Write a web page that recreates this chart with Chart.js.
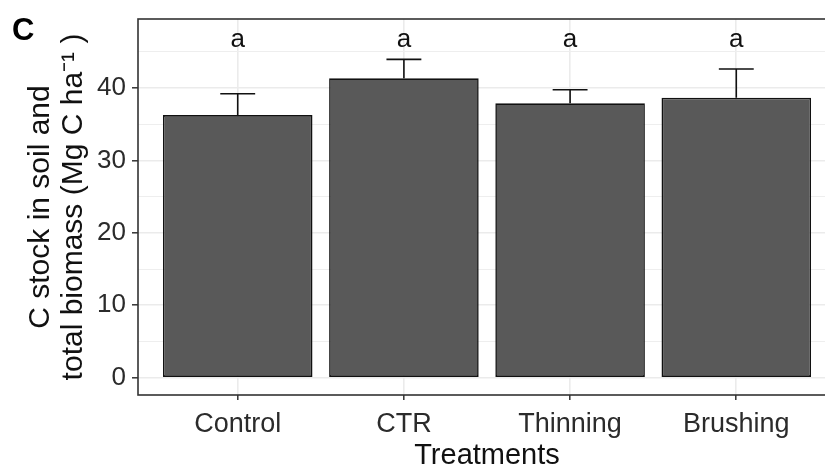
<!DOCTYPE html>
<html><head><meta charset="utf-8">
<script src="https://cdn.jsdelivr.net/npm/chart.js@4/dist/chart.umd.min.js"></script>
<style>
html,body{margin:0;padding:0;background:#fff;overflow:hidden;}
#wrap{position:relative;width:825px;height:468px;overflow:hidden;background:#fff;}
#wrap canvas{position:absolute;left:0;top:0;}
</style></head><body>
<div id="wrap"><canvas id="c" width="850" height="476"></canvas></div>
<script>
// ---- data ----
const categories = ['Control', 'CTR', 'Thinning', 'Brushing'];
const means = [36.27, 41.34, 37.89, 38.66];
const errors = [2.94, 2.62, 1.88, 3.96];
const letters = ['a', 'a', 'a', 'a'];
const letterY = 46.7;
const yTicks = [0, 5, 10, 15, 20, 25, 30, 35, 40, 45];
const yLabelTicks = [0, 10, 20, 30, 40];
const yRange = [-2.39, 49.53];
const xRange = [-0.6, 3.6];
const capWidth = 0.21;
const panelLabel = 'C';
const yTitle = ['C stock in soil and', 'total biomass (Mg C ha\u207B\u00B9 )'];
const xTitle = 'Treatments';

const FONT = '"Liberation Sans", Arial, sans-serif';

const extras = {
  id: 'extras',
  afterDatasetsDraw(chart) {
    const {ctx, chartArea: a, scales: {x, y}} = chart;
    ctx.save();
    // error bars
    ctx.strokeStyle = '#111';
    ctx.lineWidth = 1.6;
    means.forEach((m, i) => {
      const px = x.getPixelForValue(i);
      const y0 = y.getPixelForValue(m);
      const y1 = y.getPixelForValue(m + errors[i]);
      const hw = x.getPixelForValue(i + capWidth / 2) - px;
      ctx.beginPath();
      ctx.moveTo(px, y0); ctx.lineTo(px, y1);
      ctx.moveTo(px - hw, y1); ctx.lineTo(px + hw, y1);
      ctx.stroke();
    });
    // letters
    ctx.fillStyle = '#111';
    ctx.font = '26px ' + FONT;
    ctx.textAlign = 'center';
    ctx.textBaseline = 'middle';
    letters.forEach((t, i) => {
      ctx.fillText(t, x.getPixelForValue(i), y.getPixelForValue(letterY));
    });
    // panel border
    ctx.strokeStyle = '#333';
    ctx.lineWidth = 1.6;
    ctx.strokeRect(a.left, a.top, a.right - a.left, a.bottom - a.top);
    // panel label
    ctx.font = 'bold 31px ' + FONT;
    ctx.textAlign = 'left';
    ctx.textBaseline = 'alphabetic';
    ctx.fillStyle = '#000';
    ctx.fillText(panelLabel, 12, 40);
    ctx.restore();
  }
};

const isMajor = v => yLabelTicks.includes(v);

new Chart(document.getElementById('c'), {
  type: 'bar',
  data: {
    datasets: [{
      data: categories.map((c, i) => ({x: i, y: means[i]})),
      backgroundColor: '#595959',
      borderColor: '#111',
      borderWidth: 1.6,
      borderSkipped: false,
      categoryPercentage: 1,
      barPercentage: 0.9
    }]
  },
  options: {
    responsive: false,
    animation: false,
    events: [],
    layout: {padding: {left: 0, right: 14, top: 19, bottom: 0}},
    plugins: {legend: {display: false}, tooltip: {enabled: false}},
    scales: {
      x: {
        type: 'linear',
        bounds: 'data',
        min: xRange[0], max: xRange[1],
        offset: false,
        afterBuildTicks: s => { s.ticks = categories.map((c, i) => ({value: i})); },
        afterFit: s => { s.height = 81; s.paddingLeft = 0; s.paddingRight = 0; },
        ticks: {
          callback: v => categories[v],
          font: {family: FONT, size: 27},
          color: '#2b2b2b',
          padding: 8,
          maxRotation: 0,
          autoSkip: false
        },
        grid: {color: '#EBEBEB', lineWidth: 1.6, tickColor: '#333', tickLength: 5, tickWidth: 1.5, offset: false},
        border: {display: false},
        title: {display: true, text: xTitle, font: {family: FONT, size: 29}, color: '#111', padding: {top: 0, bottom: 2.6}}
      },
      y: {
        type: 'linear',
        bounds: 'data',
        min: yRange[0], max: yRange[1],
        afterBuildTicks: s => { s.ticks = yTicks.map(v => ({value: v})); },
        afterFit: s => { s.width = 138; s.paddingTop = 0; s.paddingBottom = 0; },
        ticks: {
          callback: v => isMajor(v) ? String(v) : '',
          font: {family: FONT, size: 26},
          color: '#2b2b2b',
          padding: 6
        },
        grid: {
          color: c => isMajor(c.tick.value) ? '#EBEBEB' : '#EEEEEE',
          lineWidth: c => isMajor(c.tick.value) ? 1.6 : 1,
          tickColor: c => isMajor(c.tick.value) ? '#333' : 'rgba(0,0,0,0)',
          tickLength: 6,
          tickWidth: 1.5
        },
        border: {display: false},
        title: {display: true, text: yTitle, font: {family: FONT, size: 30, lineHeight: 1.1}, color: '#111', padding: {top: 24, bottom: 0}}
      }
    }
  },
  plugins: [extras]
});
</script>
</body></html>
